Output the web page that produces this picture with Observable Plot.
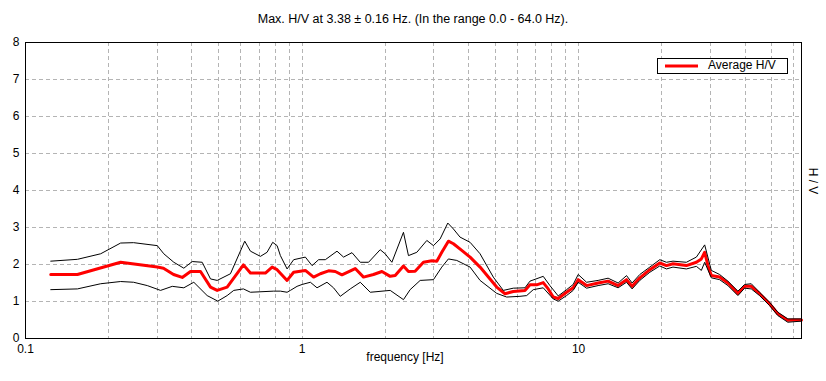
<!DOCTYPE html>
<html>
<head>
<meta charset="utf-8">
<script src="https://cdn.jsdelivr.net/npm/d3@7"></script>
<script src="https://cdn.jsdelivr.net/npm/@observablehq/plot@0.6"></script>
<style>
  html, body { margin: 0; padding: 0; background: #ffffff; }
</style>
</head>
<body>
<div id="chart"></div>
<script>
// ---- Chart texts ----
const titleText = "Max. H/V at 3.38 \u00B1 0.16 Hz. (In the range 0.0 - 64.0 Hz).";
const xLabel = "frequency [Hz]";
const yLabel = "H / V";
const legendLabel = "Average H/V";

// ---- Axis ticks ----
const xTicks = [0.1, 1, 10];
const xTickLabels = ["0.1", "1", "10"];
const xGrid = [0.2,0.3,0.4,0.5,0.6,0.7,0.8,0.9,1,2,3,4,5,6,7,8,9,10,20,30,40,50,60];
const yTicks = [0,1,2,3,4,5,6,7,8];
const yGrid = [1,2,3,4,5,6,7];
const xDomain = [0.1, 64];
const yDomain = [0, 8];

// ---- Average H/V ----
const avgFreq = [0.1234,0.1541,0.2208,0.2996,0.3155,0.3431,0.3688,0.3951,0.4294,0.4667,0.4934,0.536,0.6139,0.6508,0.737,0.7795,0.8125,0.883,0.9327,1.028,1.101,1.165,1.247,1.319,1.394,1.557,1.669,1.813,1.945,2.084,2.172,2.327,2.426,2.564,2.748,2.947,3.072,3.202,3.383,3.527,3.781,4.052,4.403,4.784,5.058,5.42,5.807,6.4,6.672,7.054,7.451,7.768,8.097,8.441,9.05,9.56,9.97,10.69,11.77,12.79,13.9,14.91,15.62,16.65,18.1,19.66,20.79,21.95,24.54,26.67,27.8,28.58,29.37,30.21,32.36,34.68,37.69,39.85,42.12,45.13,49.05,52.55,57.1,60.38,64];
const avgHV = [1.73,1.73,2.06,1.93,1.9,1.73,1.65,1.81,1.81,1.39,1.3,1.39,1.99,1.77,1.77,1.93,1.86,1.57,1.79,1.84,1.66,1.75,1.83,1.81,1.72,1.89,1.66,1.73,1.81,1.68,1.7,1.96,1.81,1.82,2.06,2.1,2.09,2.33,2.63,2.56,2.38,2.2,1.93,1.61,1.39,1.21,1.27,1.3,1.45,1.45,1.51,1.34,1.12,1.08,1.25,1.37,1.59,1.43,1.5,1.55,1.43,1.59,1.41,1.64,1.86,2.04,1.97,2.02,1.97,2.06,2.15,2.33,1.97,1.7,1.66,1.5,1.22,1.41,1.41,1.21,0.94,0.67,0.49,0.5,0.5];

// ---- Upper bound ----
const upFreq = [0.1234,0.1541,0.187,0.2208,0.246,0.2996,0.3163,0.3439,0.3737,0.4007,0.4355,0.4667,0.4934,0.551,0.6206,0.6508,0.7071,0.7473,0.7834,0.8125,0.8351,0.883,0.9327,1.028,1.087,1.148,1.214,1.338,1.413,1.516,1.624,1.74,1.917,1.998,2.113,2.327,2.426,2.601,2.827,2.987,3.157,3.366,3.527,3.727,4.052,4.403,4.917,5.344,5.807,6.4,6.672,7.451,7.878,8.441,9.05,9.56,9.97,10.69,11.77,12.79,13.9,14.91,15.62,16.65,18.1,19.66,20.79,21.95,24.54,26.67,28.58,30.21,32.36,34.68,37.69,39.85,42.12,45.13,49.05,52.55,57.1,64];
const upHV = [2.09,2.14,2.29,2.58,2.59,2.51,2.29,2.06,1.9,2.08,2.06,1.61,1.57,1.75,2.63,2.36,2.22,2.33,2.6,2.51,2.24,1.88,2.13,2.2,1.97,2.13,2.13,2.36,2.2,2.32,2.06,2.06,2.4,2.29,2.06,2.87,2.24,2.33,2.65,2.51,2.69,3.12,2.96,2.74,2.6,2.29,1.66,1.3,1.36,1.37,1.55,1.68,1.43,1.15,1.32,1.46,1.73,1.52,1.57,1.63,1.5,1.7,1.5,1.73,1.93,2.13,2.06,2.09,2.06,2.2,2.53,1.84,1.73,1.55,1.28,1.46,1.48,1.25,0.98,0.71,0.53,0.53];

// ---- Lower bound ----
const loFreq = [0.1234,0.1541,0.187,0.2208,0.246,0.2757,0.3079,0.3395,0.3737,0.4061,0.4539,0.4959,0.536,0.5664,0.6139,0.6508,0.7899,0.8351,0.883,0.9076,0.9594,1.0,1.072,1.133,1.231,1.3,1.375,1.494,1.624,1.765,2.084,2.327,2.46,2.674,2.987,3.202,3.383,3.627,4.052,4.403,5.058,5.497,6.14,6.491,6.858,7.451,8.097,8.441,9.05,9.56,9.97,10.69,11.77,12.79,13.9,14.91,15.62,16.65,18.1,19.66,20.79,21.95,24.54,26.67,27.8,28.58,30.21,32.36,34.68,37.69,39.85,42.12,45.13,49.05,52.55,57.1,64];
const loHV = [1.32,1.34,1.48,1.54,1.52,1.43,1.3,1.41,1.37,1.52,1.16,1.01,1.16,1.3,1.34,1.25,1.28,1.28,1.25,1.3,1.41,1.46,1.52,1.37,1.52,1.37,1.14,1.34,1.52,1.25,1.3,1.05,1.32,1.57,1.59,1.93,2.15,2.11,1.93,1.57,1.22,1.12,1.14,1.16,1.32,1.37,1.07,1.01,1.16,1.3,1.52,1.36,1.43,1.48,1.37,1.52,1.34,1.57,1.79,1.96,1.88,1.93,1.88,1.95,1.84,2.06,1.64,1.59,1.43,1.16,1.36,1.34,1.16,0.89,0.62,0.44,0.47];

const toRows = (fs, vs) => fs.map((f, i) => ({f, v: vs[i]}));
const avgRows = toRows(avgFreq, avgHV);
const upRows = toRows(upFreq, upHV);
const loRows = toRows(loFreq, loHV);

const W = 826, H = 381;
const mL = 25, mR = 25, mT = 42, mB = 43;
const font = "'Liberation Sans', Arial, sans-serif";

const chart = Plot.plot({
  width: W,
  height: H,
  marginLeft: mL,
  marginRight: mR,
  marginTop: mT,
  marginBottom: mB,
  style: {fontFamily: font, fontSize: "12px", background: "#ffffff", color: "#000000", overflow: "visible"},
  x: {type: "log", domain: xDomain},
  y: {domain: yDomain},
  marks: [
    Plot.gridX(xGrid, {stroke: "#b4b4b4", strokeOpacity: 1, strokeDasharray: "4,3", shapeRendering: "crispEdges"}),
    Plot.gridY(yGrid, {stroke: "#b4b4b4", strokeOpacity: 1, strokeDasharray: "4,3", shapeRendering: "crispEdges"}),
    Plot.axisX(xTicks, {tickSize: 0, tickPadding: 6, tickFormat: (d) => xTickLabels[xTicks.indexOf(d)], label: null, fontSize: 12}),
    Plot.axisY(yTicks, {tickSize: 0, tickPadding: 6, tickFormat: d => String(d), label: null, fontSize: 12}),
    Plot.line(avgRows, {x: "f", y: "v", stroke: "#ff0000", strokeWidth: 3, strokeLinejoin: "round"}),
    Plot.line(upRows, {x: "f", y: "v", stroke: "#000000", strokeWidth: 1}),
    Plot.line(loRows, {x: "f", y: "v", stroke: "#000000", strokeWidth: 1}),
    Plot.frame({stroke: "#000000", strokeWidth: 1.5, shapeRendering: "crispEdges"})
  ]
});

document.getElementById("chart").appendChild(chart);

const svg = d3.select(chart);
const cx = (mL + (W - mR)) / 2;

// Title
svg.append("text")
  .attr("x", cx).attr("y", 20)
  .attr("text-anchor", "middle").attr("dominant-baseline", "middle")
  .style("font-family", font).style("font-size", "12.5px")
  .text(titleText);

// X label
svg.append("text")
  .attr("x", cx - 8).attr("y", 358)
  .attr("text-anchor", "middle").attr("dominant-baseline", "middle")
  .style("font-family", font).style("font-size", "12px")
  .text(xLabel);

// Y label on the right, rotated
svg.append("text")
  .attr("transform", `translate(812, 181) rotate(90)`)
  .attr("text-anchor", "middle").attr("dominant-baseline", "middle")
  .style("font-family", font).style("font-size", "12px")
  .text(yLabel);

// Legend
const lg = svg.append("g");
lg.append("rect")
  .attr("x", 657.5).attr("y", 58.5).attr("width", 130).attr("height", 15)
  .attr("fill", "#ffffff").attr("stroke", "#000000").attr("stroke-width", 1);
lg.append("line")
  .attr("x1", 665).attr("x2", 698).attr("y1", 66).attr("y2", 66)
  .attr("stroke", "#ff0000").attr("stroke-width", 3);
lg.append("text")
  .attr("x", 708).attr("y", 66)
  .attr("text-anchor", "start")
  .attr("dominant-baseline", "middle")
  .style("font-family", font).style("font-size", "12px")
  .text(legendLabel);
</script>
</body>
</html>
